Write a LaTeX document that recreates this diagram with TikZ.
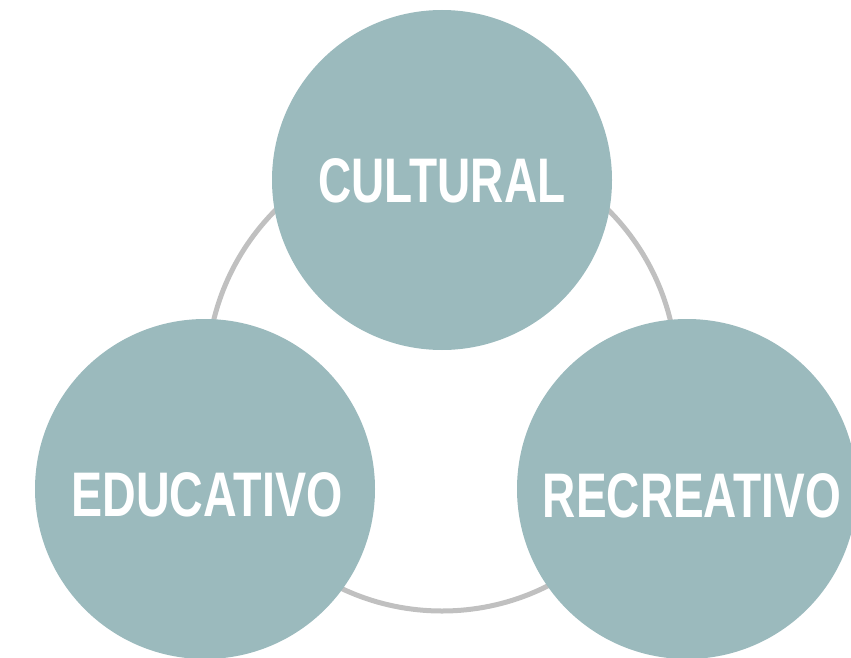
\documentclass[tikz,border=0pt]{standalone}
\usepackage{fontspec}
\setmainfont{Liberation Sans}
\definecolor{blobfill}{RGB}{155,186,189}
\definecolor{ringgrey}{RGB}{192,192,192}
\begin{document}
\begin{tikzpicture}[x=1pt,y=-1pt,
  blob/.style={circle,fill=blobfill,draw=none,minimum size=340pt,inner sep=0pt},
  lbl/.style={text=white,font=\fontsize{63}{63}\selectfont\bfseries,inner sep=0pt,anchor=center},
  ring/.style={draw=ringgrey,line width=5pt}]
\useasboundingbox (0,0) rectangle (851,658);
\coordinate (rc) at (442,376);
\draw[ring] (rc) circle[radius=235];
\node[blob] (cul) at (442,180) {};
\node[blob] (edu) at (205,489) {};
\node[blob] (rec) at (687,489) {};
\node[lbl] (tcul) at (442,180.5) {\scalebox{0.73}[1]{CULTURAL}};
\node[lbl] (tedu) at (207,495) {\scalebox{0.74}[1]{EDUCATIVO}};
\node[lbl] (trec) at (692,495.5) {\scalebox{0.73}[1]{RECREATIVO}};
\end{tikzpicture}
\end{document}
